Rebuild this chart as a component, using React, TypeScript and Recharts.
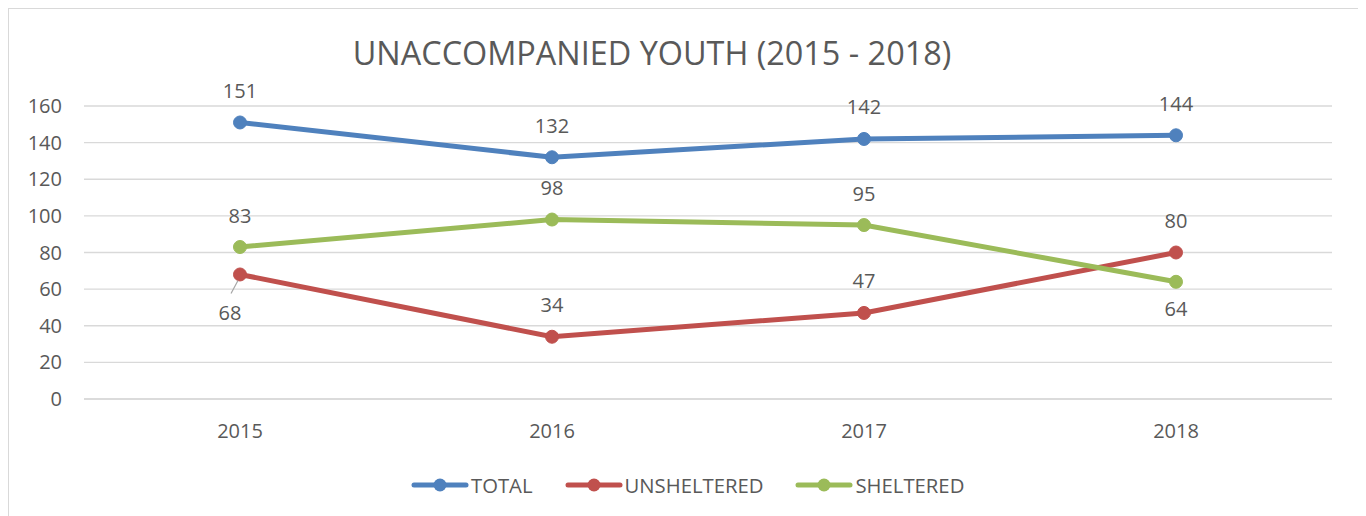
import React from "react";
import { LineChart, Line, XAxis, YAxis, CartesianGrid, LabelList } from "recharts";

const years = ["2015", "2016", "2017", "2018"];
const total = [151, 132, 142, 144];
const unsheltered = [68, 34, 47, 80];
const sheltered = [83, 98, 95, 64];
const yTicks = [0, 20, 40, 60, 80, 100, 120, 140, 160];

const data = years.map((y, i) => ({
  year: y,
  total: total[i],
  unsheltered: unsheltered[i],
  sheltered: sheltered[i],
}));

const FONT = "'Open Sans', 'Noto Sans', sans-serif";
const TXT = "#595959";
const COLORS: Record<string, string> = { total: "#4F81BD", unsheltered: "#C0504D", sheltered: "#9BBB59" };

// label placement per series: "up" / "down" / "downLeader"
const placement: Record<string, string[]> = {
  total: ["up", "up", "up", "up"],
  unsheltered: ["downLeader", "up", "up", "up"],
  sheltered: ["up", "up", "up", "down"],
};

const makeLabel = (key: string) => (props: any) => {
  const { x, y, value, index } = props;
  const p = placement[key][index];
  if (p === "up") {
    return (
      <text x={x} y={y - 32} textAnchor="middle" dominantBaseline="central" fill={TXT} fontSize={20} fontFamily={FONT}>
        {value}
      </text>
    );
  }
  if (p === "down") {
    return (
      <text x={x} y={y + 27} textAnchor="middle" dominantBaseline="central" fill={TXT} fontSize={20} fontFamily={FONT}>
        {value}
      </text>
    );
  }
  return (
    <g>
      <line x1={x - 2} y1={y + 6} x2={x - 9} y2={y + 19} stroke="#A6A6A6" strokeWidth={1.2} />
      <text x={x - 10} y={y + 38} textAnchor="middle" dominantBaseline="central" fill={TXT} fontSize={20} fontFamily={FONT}>
        {value}
      </text>
    </g>
  );
};

const legendItems = [
  { key: "total", label: "TOTAL" },
  { key: "unsheltered", label: "UNSHELTERED" },
  { key: "sheltered", label: "SHELTERED" },
];

function ChartLegend() {
  return (
    <div
      style={{
        position: "absolute",
        top: 462,
        left: 402,
        display: "flex",
        alignItems: "center",
        fontFamily: FONT,
        fontSize: 20.3,
        color: TXT,
        whiteSpace: "nowrap",
      }}
    >
      {legendItems.map((it, i) => (
        <div key={it.key} style={{ display: "flex", alignItems: "center", marginLeft: i === 0 ? 0 : 32 }}>
          <svg width={58} height={18}>
            <line x1={3} y1={9} x2={55} y2={9} stroke={COLORS[it.key]} strokeWidth={5} strokeLinecap="round" />
            <circle cx={29} cy={9} r={6.5} fill={COLORS[it.key]} />
          </svg>
          <span style={{ marginLeft: 2 }}>{it.label}</span>
        </div>
      ))}
    </div>
  );
}

export default function App() {
  return (
    <div
      style={{
        position: "relative",
        width: 1352,
        height: 520,
        border: "1px solid #D9D9D9",
        background: "#fff",
        boxSizing: "content-box",
      }}
    >
      <div
        style={{
          position: "absolute",
          left: 0,
          width: 1286,
          top: 21,
          textAlign: "center",
          fontFamily: FONT,
          fontSize: 32.4,
          color: TXT,
          whiteSpace: "nowrap",
        }}
      >
        UNACCOMPANIED YOUTH (2015 - 2018)
      </div>
      <LineChart
        width={1352}
        height={505}
        data={data}
        margin={{ top: 97, right: 29, left: 0, bottom: 85 }}
      >
        <CartesianGrid vertical={false} stroke="#D9D9D9" strokeWidth={1.3} />
        <XAxis
          dataKey="year"
          axisLine={{ stroke: "#D9D9D9", strokeWidth: 1.3 }}
          tickLine={false}
          tickMargin={19}
          height={30}
          padding={{ left: 156, right: 156 }}
          tick={{ fill: TXT, fontSize: 20, fontFamily: FONT }}
        />
        <YAxis
          domain={[0, 160]}
          ticks={yTicks}
          axisLine={false}
          tickLine={false}
          width={75}
          tickMargin={16}
          tick={{ fill: TXT, fontSize: 20, fontFamily: FONT }}
        />
        <Line type="linear" dataKey="total" name="TOTAL" stroke={COLORS.total} strokeWidth={5}
          dot={{ r: 6.5, fill: COLORS.total, stroke: COLORS.total, strokeWidth: 1 }} isAnimationActive={false}>
          <LabelList dataKey="total" content={makeLabel("total")} />
        </Line>
        <Line type="linear" dataKey="unsheltered" name="UNSHELTERED" stroke={COLORS.unsheltered} strokeWidth={5}
          dot={{ r: 6.5, fill: COLORS.unsheltered, stroke: COLORS.unsheltered, strokeWidth: 1 }} isAnimationActive={false}>
          <LabelList dataKey="unsheltered" content={makeLabel("unsheltered")} />
        </Line>
        <Line type="linear" dataKey="sheltered" name="SHELTERED" stroke={COLORS.sheltered} strokeWidth={5}
          dot={{ r: 6.5, fill: COLORS.sheltered, stroke: COLORS.sheltered, strokeWidth: 1 }} isAnimationActive={false}>
          <LabelList dataKey="sheltered" content={makeLabel("sheltered")} />
        </Line>
      </LineChart>
      <ChartLegend />
    </div>
  );
}
